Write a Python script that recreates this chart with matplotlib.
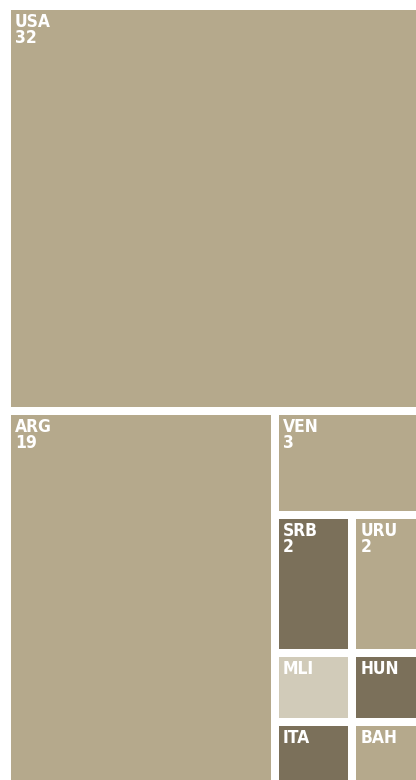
"""Treemap of counts by country"""
import matplotlib.pyplot as plt
import matplotlib.patches as patches

# Data
codes = ['USA', 'ARG', 'VEN', 'SRB', 'URU', 'MLI', 'ITA', 'HUN', 'BAH']
values = [32, 19, 3, 2, 2, 1, 1, 1, 1]
shades = ['mid', 'mid', 'mid', 'dark', 'mid', 'light', 'dark', 'dark', 'mid']
show_value = [True, True, True, True, True, False, False, False, False]

palette = {'mid': '#b5a98c', 'dark': '#7b705a', 'light': '#d1cbb9'}


def squarify(vals, x0, y0, x1, y1):
    """Squarified treemap (d3 style, ratio 1). Returns list of (x0, y0, x1, y1)."""
    rects = []
    n = len(vals)
    total = float(sum(vals))
    i0 = 0
    while i0 < n:
        dx, dy = x1 - x0, y1 - y0
        i1 = i0
        s = vals[i1]
        i1 += 1
        vmin = vmax = s
        alpha = max(dy / dx, dx / dy) / total
        beta = s * s * alpha
        best = max(vmax / beta, beta / vmin)
        while i1 < n:
            v = vals[i1]
            s2 = s + v
            nmin, nmax = min(vmin, v), max(vmax, v)
            beta = s2 * s2 * alpha
            r = max(nmax / beta, beta / nmin)
            if r > best:
                break
            s, vmin, vmax, best = s2, nmin, nmax, r
            i1 += 1
        row = vals[i0:i1]
        if dx < dy:
            # row across the top
            yb = y0 + dy * s / total
            xx = x0
            for v in row:
                w = dx * v / s
                rects.append((xx, y0, xx + w, yb))
                xx += w
            y0 = yb
        else:
            # column on the left
            xb = x0 + dx * s / total
            yy = y0
            for v in row:
                h = dy * v / s
                rects.append((x0, yy, xb, yy + h))
                yy += h
            x0 = xb
        total -= s
        i0 = i1
    return rects


fig = plt.figure(figsize=(4.16, 7.8), dpi=100)
ax = fig.add_axes([0, 0, 1, 1])
ax.set_xlim(0, 416)
ax.set_ylim(780, 0)
ax.axis('off')

# treemap box runs past the right/bottom edge, as in the original crop
gap = 4
rects = squarify(values, 7, 6, 430, 791)

for (rx0, ry0, rx1, ry1), code, val, shade, sv in zip(rects, codes, values, shades, show_value):
    rect = patches.Rectangle((rx0 + gap, ry0 + gap), rx1 - rx0 - 2 * gap, ry1 - ry0 - 2 * gap,
                             facecolor=palette[shade], edgecolor='none')
    ax.add_patch(rect)
    label = f'{code}\n{val}' if sv else code
    ax.text(rx0 + gap + 4, ry0 + gap + 3, label, ha='left', va='top',
            fontsize=12.5, weight='bold', color='white', fontstretch='condensed',
            family=['DejaVu Sans'], linespacing=0.85)

plt.savefig('out.png', dpi=100)
plt.close()
